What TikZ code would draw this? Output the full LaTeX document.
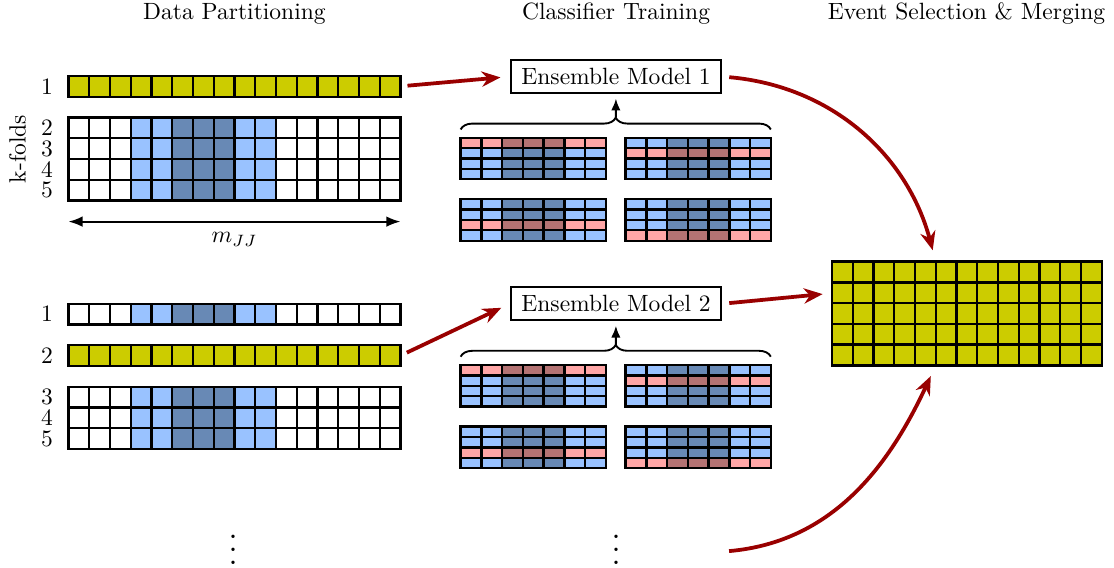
\documentclass[tikz,border=0pt]{standalone}
\usetikzlibrary{arrows.meta,decorations.pathreplacing,fit}
\definecolor{lightsig}{RGB}{153,194,255}
\definecolor{darksig}{RGB}{104,137,181}
\definecolor{lightval}{RGB}{255,166,166}
\definecolor{darkval}{RGB}{180,115,115}
\definecolor{foldyellow}{RGB}{204,204,0}
\definecolor{flowred}{RGB}{153,0,0}

\begin{document}
\begin{tikzpicture}[x=0.31cm,y=0.31cm,
    cellgrid/.style={line width=1pt},
    model/.style={draw,line width=0.8pt,inner xsep=4.5pt,minimum height=0.49cm},
    frame/.style={inner sep=0pt,outer sep=0pt},
    flow/.style={draw=flowred,line width=1.6pt,-{Stealth[length=8pt,width=6.5pt]},shorten <=3pt,shorten >=4pt},
    up/.style={line width=0.8pt,-{Latex[length=5pt,width=4pt]},shorten >=2pt},
    curly/.style={line width=0.8pt,decorate,decoration={brace,amplitude=5pt}}]
  \useasboundingbox (0,0) rectangle (53.69,-27.33);

  \node (titlepart) at (11.3,-0.67) {Data Partitioning};
  \node (titletrain) at (29.69,-0.67) {Classifier Training};
  \node (titlemerge) at (46.58,-0.67) {Event Selection \& Merging};

  % folds used for selection
  \foreach \y in {-3.66,-16.64}{
    \begin{scope}[shift={(3.3,\y)}]
      \fill[foldyellow] (0,0) rectangle (16,-1);
      \foreach \i in {0,...,15}
        \draw[cellgrid] (\i,0) rectangle ++(1,-1);
    \end{scope}
  }
  % folds used for training
  \foreach \y/\n in {-5.66/4,-14.64/1,-18.64/3}{
    \begin{scope}[shift={(3.3,\y)}]
      \fill[lightsig] (3,0) rectangle (10,-\n);
      \fill[darksig] (5,0) rectangle (8,-\n);
      \foreach \i in {0,...,15}
        \foreach \j in {1,...,\n}
          \draw[cellgrid] (\i,1-\j) rectangle ++(1,-1);
    \end{scope}
  }
  \node[frame,fit={(3.3,-3.66)(19.3,-4.66)}] (sel1) {};
  \node[frame,fit={(3.3,-16.64)(19.3,-17.64)}] (sel2) {};

  \foreach \lab/\y in {1/-4.16,2/-6.16,3/-7.16,4/-8.16,5/-9.16}
    \node (upnum\lab) at (2.27,\y) {\lab};
  \foreach \lab/\y in {1/-15.14,2/-17.14,3/-19.14,4/-20.14,5/-21.14}
    \node (lownum\lab) at (2.27,\y) {\lab};
  \node[rotate=90] (kfolds) at (0.84,-7.18) {k-folds};

  \coordinate (mlo) at (3.3,-10.68);
  \coordinate (mhi) at (19.3,-10.68);
  \draw[line width=0.8pt,{Latex[length=6pt,width=4.5pt]}-{Latex[length=6pt,width=4.5pt]}] (mlo) -- node[below=1pt] (mjj) {$m_{JJ}$} (mhi);

  % classifier ensembles
  \foreach \gx/\gy/\r in {22.2/-6.64/1,30.15/-6.64/2,22.2/-9.6/3,30.15/-9.6/4,
                          22.2/-17.59/1,30.15/-17.59/2,22.2/-20.56/3,30.15/-20.56/4}{
    \begin{scope}[shift={(\gx,\gy)}]
      \fill[lightsig] (0,0) rectangle (7,-2);
      \fill[darksig] (2,0) rectangle (5,-2);
      \fill[lightval] (0,{-0.5*(\r-1)}) rectangle (7,-0.5*\r);
      \fill[darkval] (2,{-0.5*(\r-1)}) rectangle (5,-0.5*\r);
      \foreach \i in {0,...,6}
        \foreach \j in {1,...,4}
          \draw[cellgrid] (\i,{0.5-0.5*\j}) rectangle ++(1,-0.5);
    \end{scope}
  }

  \node[model] (model1) at (29.69,-3.69) {Ensemble Model 1};
  \node[model] (model2) at (29.69,-14.64) {Ensemble Model 2};

  \draw[curly] (22.2,-6.24) -- (37.15,-6.24);
  \draw[curly] (22.2,-17.19) -- (37.15,-17.19);
  \coordinate (tip1) at (29.68,-5.67);
  \coordinate (tip2) at (29.68,-16.62);
  \draw[up] (tip1) -- (model1);
  \draw[up] (tip2) -- (model2);

  % merged selection
  \begin{scope}[shift={(40.1,-12.61)}]
    \fill[foldyellow] (0,0) rectangle (13,-5);
    \foreach \i in {0,...,12}
      \foreach \j in {1,...,5}
        \draw[cellgrid] (\i,1-\j) rectangle ++(1,-1);
  \end{scope}
  \node[frame,fit={(40.1,-12.61)(53.1,-17.61)}] (merged) {};

  \node[scale=1.375,inner sep=0pt] (vdots1) at (11.24,-26.05) {$\vdots$};
  \node[scale=1.375,inner sep=0pt] (vdots2) at (29.69,-26.05) {$\vdots$};

  \coordinate (mtop) at (45.1,-12.61);
  \coordinate (mleft) at (40.1,-14.13);
  \coordinate (mbottom) at (45.1,-17.61);
  \coordinate (more) at (34.8,-26.59);

  \draw[flow] (sel1.east) -- (model1.west);
  \draw[flow] (sel2.east) -- (model2.west);
  \draw[flow,shorten >=5pt] (model1.east) to[out=-5,in=105] (mtop);
  \draw[flow] (model2.east) -- (mleft);
  \draw[flow,shorten >=5pt] (more) to[out=5,in=245] (mbottom);
\end{tikzpicture}
\end{document}
